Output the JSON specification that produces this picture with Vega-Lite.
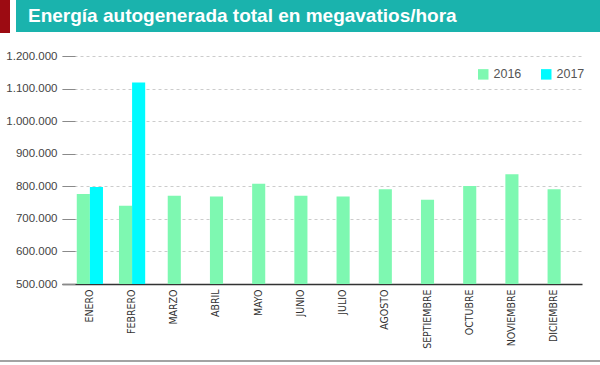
{
  "$schema": "https://vega.github.io/schema/vega-lite/v6.json",
  "padding": 0,
  "autosize": {"type": "pad"},
  "background": "white",
  "config": {
    "locale": {"number": {"decimal": ",", "thousands": ".", "grouping": [3], "currency": ["$", ""]}},
    "view": {"stroke": null},
    "font": "Liberation Sans"
  },
  "spacing": 17,
  "vconcat": [
    {
      "spacing": 6,
      "hconcat": [
        {
          "data": {"values": []},
          "mark": "point",
          "width": 10,
          "height": 33,
          "view": {"fill": "#9c0b12", "stroke": null}
        },
        {
          "data": {"values": []},
          "mark": "point",
          "width": 584,
          "height": 32,
          "view": {"fill": "#1ab3ad", "stroke": null},
          "title": {
            "text": "Energía autogenerada total en megavatios/hora",
            "anchor": "start",
            "orient": "top",
            "offset": -26,
            "dx": 12,
            "color": "white",
            "font": "Liberation Sans",
            "fontSize": 19,
            "fontWeight": "bold"
          }
        }
      ]
    },
    {
      "spacing": 11,
      "vconcat": [
        {
          "width": 582,
          "height": 228,
          "data": {
            "values": [
              {"mes": "ENERO", "anio": "2016", "valor": 776000},
              {"mes": "FEBRERO", "anio": "2016", "valor": 740000},
              {"mes": "MARZO", "anio": "2016", "valor": 771000},
              {"mes": "ABRIL", "anio": "2016", "valor": 769000},
              {"mes": "MAYO", "anio": "2016", "valor": 808000},
              {"mes": "JUNIO", "anio": "2016", "valor": 771000},
              {"mes": "JULIO", "anio": "2016", "valor": 769000},
              {"mes": "AGOSTO", "anio": "2016", "valor": 791000},
              {"mes": "SEPTIEMBRE", "anio": "2016", "valor": 759000},
              {"mes": "OCTUBRE", "anio": "2016", "valor": 801000},
              {"mes": "NOVIEMBRE", "anio": "2016", "valor": 837000},
              {"mes": "DICIEMBRE", "anio": "2016", "valor": 791000},
              {"mes": "ENERO", "anio": "2017", "valor": 798000},
              {"mes": "FEBRERO", "anio": "2017", "valor": 1119000}
            ]
          },
          "encoding": {
            "x": {
              "field": "mes",
              "type": "nominal",
              "scale": {
                "domain": ["ENERO", "FEBRERO", "MARZO", "ABRIL", "MAYO", "JUNIO", "JULIO", "AGOSTO", "SEPTIEMBRE", "OCTUBRE", "NOVIEMBRE", "DICIEMBRE"],
                "range": [62, 582],
                "paddingInner": 0.379,
                "paddingOuter": 0.35
              },
              "axis": {
                "title": null,
                "labelAngle": -90,
                "labelAlign": "right",
                "labelBaseline": "middle",
                "labelPadding": 5,
                "labelFont": "Liberation Sans Narrow, DejaVu Sans Condensed, Liberation Sans, sans-serif",
                "labelFontSize": 10.5,
                "labelColor": "#333333",
                "ticks": false,
                "domainColor": "#333333",
                "domainWidth": 1.5,
                "grid": false
              }
            },
            "y": {
              "field": "valor",
              "type": "quantitative",
              "stack": null,
              "scale": {"domain": [500000, 1200000], "zero": false, "nice": false},
              "axis": {
                "title": null,
                "values": [500000, 600000, 700000, 800000, 900000, 1000000, 1100000, 1200000],
                "format": ",d",
                "domain": false,
                "offset": -75,
                "tickSize": 13,
                "tickColor": "#8a8a8a",
                "labelPadding": 5,
                "labelFontSize": 11.5,
                "labelColor": "#444444",
                "grid": true,
                "gridDash": [3, 3],
                "gridColor": "#cccccc"
              }
            },
            "color": {
              "field": "anio",
              "type": "nominal",
              "scale": {"domain": ["2016", "2017"], "range": ["#7ef8b1", "#00fbff"]},
              "legend": {
                "title": null,
                "orient": "none",
                "legendX": 477,
                "legendY": 68,
                "direction": "horizontal",
                "symbolType": "square",
                "symbolSize": 110,
                "symbolStrokeWidth": 0,
                "labelFontSize": 12.5,
                "labelColor": "#555555",
                "labelOffset": 4,
                "columnPadding": 18
              }
            }
          },
          "layer": [
            {
              "transform": [{"filter": "indexof(['ENERO','FEBRERO'], datum.mes) >= 0"}],
              "mark": {"type": "bar"},
              "encoding": {
                "xOffset": {
                  "field": "anio",
                  "type": "nominal",
                  "scale": {"domain": ["2016", "2017"], "paddingInner": 0, "paddingOuter": 0}
                }
              }
            },
            {
              "transform": [{"filter": "indexof(['ENERO','FEBRERO'], datum.mes) < 0"}],
              "mark": {"type": "bar", "width": {"band": 0.5}}
            }
          ]
        },
        {
          "data": {"values": []},
          "mark": "point",
          "width": 600,
          "height": 2,
          "view": {"fill": "#a3a3a3", "stroke": null},
          "title": {
            "text": "Fuente: INDEC",
            "orient": "bottom",
            "anchor": "end",
            "offset": 4,
            "dx": 8,
            "fontSize": 10,
            "fontWeight": "normal",
            "color": "#333333"
          }
        }
      ]
    }
  ]
}
